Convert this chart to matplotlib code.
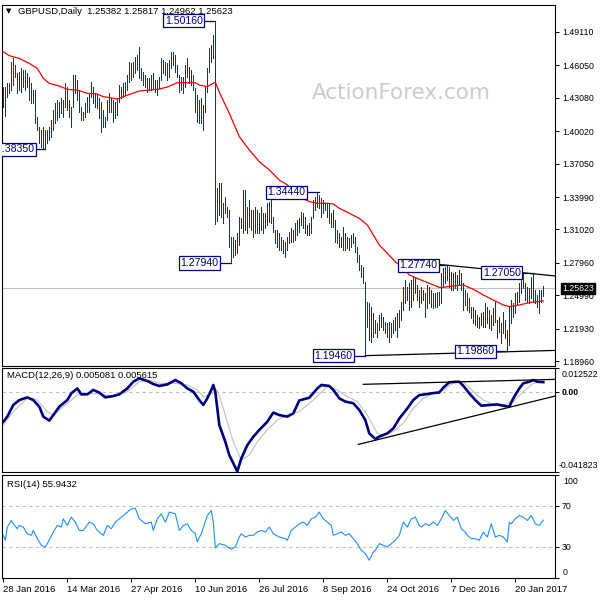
import numpy as np
import matplotlib
matplotlib.use('Agg')
import matplotlib.pyplot as plt
import matplotlib.transforms as mtransforms

plt.rcParams['font.family'] = ['Liberation Sans', 'DejaVu Sans']

# ---- daily bars (high / low), oldest first ----
HIGH = [
    1.4410, 1.4410, 1.4440, 1.4440, 1.4639, 1.4669, 1.4608, 1.4532, 1.4547, 1.4578,
    1.4562, 1.4562, 1.4532, 1.4501, 1.4440, 1.4379, 1.4379, 1.4135, 1.4043, 1.4013,
    1.4043, 1.4013, 1.4013, 1.4043, 1.4104, 1.4196, 1.4257, 1.4287, 1.4272, 1.4303,
    1.4287, 1.4440, 1.4410, 1.4287, 1.4226, 1.4516, 1.4516, 1.4471, 1.4379, 1.4226,
    1.4181, 1.4257, 1.4318, 1.4349, 1.4455, 1.4410, 1.4349, 1.4333, 1.4303, 1.4272,
    1.4196, 1.4135, 1.4287, 1.4349, 1.4303, 1.4288, 1.4272, 1.4303, 1.4425, 1.4410,
    1.4440, 1.4455, 1.4516, 1.4639, 1.4623, 1.4639, 1.4684, 1.4700, 1.4776, 1.4578,
    1.4547, 1.4516, 1.4486, 1.4486, 1.4516, 1.4532, 1.4471, 1.4471, 1.4501, 1.4669,
    1.4654, 1.4639, 1.4623, 1.4654, 1.4730, 1.4730, 1.4700, 1.4608, 1.4516, 1.4501,
    1.4501, 1.4608, 1.4669, 1.4593, 1.4562, 1.4516, 1.4394, 1.4333, 1.4288, 1.4303,
    1.4242, 1.4410, 1.4578, 1.4761, 1.4791, 1.4883, 1.5016, 1.3478, 1.3524, 1.3525,
    1.3342, 1.3402, 1.3311, 1.3280, 1.3036, 1.3036, 1.3006, 1.3067, 1.3220, 1.3204,
    1.3464, 1.3464, 1.3311, 1.3372, 1.3281, 1.3281, 1.3311, 1.3281, 1.3250, 1.3311,
    1.3250, 1.3250, 1.3342, 1.3357, 1.3372, 1.3220, 1.3097, 1.3097, 1.3067, 1.3036,
    1.3006, 1.2991, 1.3036, 1.3082, 1.3113, 1.3097, 1.3159, 1.3189, 1.3204, 1.3265,
    1.3250, 1.3220, 1.3143, 1.3159, 1.3220, 1.3372, 1.3403, 1.3444, 1.3418, 1.3388,
    1.3372, 1.3342, 1.3342, 1.3342, 1.3250, 1.3280, 1.3189, 1.3097, 1.3067, 1.3036,
    1.3128, 1.3067, 1.3036, 1.3021, 1.3051, 1.3067, 1.3036, 1.2944, 1.2868, 1.2777,
    1.2761, 1.2624, 1.2441, 1.2425, 1.2395, 1.2334, 1.2273, 1.2242, 1.2319, 1.2334,
    1.2303, 1.2258, 1.2242, 1.2258, 1.2242, 1.2273, 1.2303, 1.2334, 1.2364, 1.2441,
    1.2578, 1.2639, 1.2578, 1.2608, 1.2639, 1.2669, 1.2654, 1.2593, 1.2547, 1.2578,
    1.2547, 1.2517, 1.2593, 1.2578, 1.2547, 1.2517, 1.2517, 1.2532, 1.2532, 1.2700,
    1.2746, 1.2761, 1.2774, 1.2761, 1.2715, 1.2700, 1.2715, 1.2685, 1.2730, 1.2700,
    1.2608, 1.2547, 1.2517, 1.2471, 1.2394, 1.2394, 1.2364, 1.2318, 1.2303, 1.2333,
    1.2349, 1.2425, 1.2394, 1.2364, 1.2318, 1.2379, 1.2440, 1.2272, 1.2303, 1.2242,
    1.2349, 1.2272, 1.2181, 1.2394, 1.2455, 1.2425, 1.2516, 1.2532, 1.2608, 1.2700,
    1.2705, 1.2608, 1.2578, 1.2562, 1.2669, 1.2700, 1.2547, 1.2501, 1.2547, 1.2547,
    1.2582,
]
LOW = [
    1.4226, 1.4141, 1.4318, 1.4349, 1.4379, 1.4425, 1.4501, 1.4349, 1.4379, 1.4364,
    1.4410, 1.4379, 1.4410, 1.4287, 1.4257, 1.4257, 1.4074, 1.4013, 1.3891, 1.3860,
    1.3845, 1.3835, 1.3891, 1.3921, 1.3952, 1.4013, 1.4074, 1.4104, 1.4135, 1.4165,
    1.4135, 1.4226, 1.4196, 1.4135, 1.4043, 1.4226, 1.4349, 1.4287, 1.4181, 1.4104,
    1.4104, 1.4135, 1.4181, 1.4181, 1.4318, 1.4257, 1.4226, 1.4211, 1.4120, 1.3997,
    1.4043, 1.4043, 1.4104, 1.4181, 1.4181, 1.4089, 1.4120, 1.4150, 1.4272, 1.4303,
    1.4318, 1.4333, 1.4379, 1.4455, 1.4471, 1.4501, 1.4532, 1.4562, 1.4486, 1.4471,
    1.4425, 1.4410, 1.4364, 1.4379, 1.4379, 1.4394, 1.4364, 1.4333, 1.4394, 1.4471,
    1.4532, 1.4516, 1.4471, 1.4501, 1.4578, 1.4608, 1.4547, 1.4501, 1.4364, 1.4379,
    1.4349, 1.4410, 1.4501, 1.4440, 1.4425, 1.4379, 1.4181, 1.4089, 1.4074, 1.4074,
    1.4013, 1.4181, 1.4364, 1.4547, 1.4639, 1.4669, 1.3150, 1.3180, 1.3234, 1.3220,
    1.3159, 1.3250, 1.3219, 1.2945, 1.2794, 1.2853, 1.2869, 1.2884, 1.2960, 1.3113,
    1.3067, 1.3097, 1.3067, 1.3128, 1.3097, 1.3036, 1.3067, 1.3067, 1.3067, 1.3097,
    1.3067, 1.3113, 1.3143, 1.3174, 1.3159, 1.3082, 1.2975, 1.2945, 1.2914, 1.2914,
    1.2884, 1.2853, 1.2914, 1.2975, 1.2991, 1.2991, 1.3006, 1.3052, 1.3082, 1.3143,
    1.3113, 1.3067, 1.3052, 1.3052, 1.3067, 1.3204, 1.3281, 1.3311, 1.3296, 1.3220,
    1.3250, 1.3281, 1.3220, 1.3159, 1.3128, 1.3128, 1.2990, 1.2975, 1.2944, 1.2944,
    1.2914, 1.2914, 1.2929, 1.2914, 1.2944, 1.2975, 1.2899, 1.2807, 1.2731, 1.2670,
    1.2609, 1.1946, 1.2212, 1.2090, 1.2074, 1.2120, 1.2151, 1.2120, 1.2181, 1.2212,
    1.2181, 1.2151, 1.2120, 1.2074, 1.2120, 1.2151, 1.2181, 1.2120, 1.2212, 1.2273,
    1.2364, 1.2425, 1.2456, 1.2364, 1.2395, 1.2456, 1.2517, 1.2456, 1.2395, 1.2425,
    1.2456, 1.2303, 1.2380, 1.2425, 1.2395, 1.2380, 1.2395, 1.2395, 1.2410, 1.2425,
    1.2578, 1.2608, 1.2639, 1.2578, 1.2547, 1.2547, 1.2562, 1.2547, 1.2593, 1.2547,
    1.2364, 1.2410, 1.2364, 1.2349, 1.2288, 1.2242, 1.2227, 1.2211, 1.2196, 1.2227,
    1.2211, 1.2211, 1.2242, 1.2196, 1.2181, 1.2227, 1.2257, 1.2104, 1.2165, 1.2059,
    1.2150, 1.2104, 1.1986, 1.2043, 1.2242, 1.2303, 1.2333, 1.2410, 1.2440, 1.2516,
    1.2562, 1.2455, 1.2440, 1.2425, 1.2471, 1.2440, 1.2425, 1.2394, 1.2339, 1.2440,
    1.2496,
]
LAST_CLOSE = 1.25623

# moving average (red), sampled along the line
MA_IDX = [0, 3, 8, 13, 17, 20, 23, 28, 32, 37, 42, 47, 50, 53, 57, 60, 63, 68, 73, 78,
          82, 87, 92, 96, 98, 102, 104, 106, 108, 109, 113, 118, 123, 128, 133, 138, 142,
          148, 153, 157, 162, 165, 168, 173, 178, 182, 185, 188, 192, 196, 200, 203, 208,
          213, 218, 220, 225, 230, 235, 240, 245, 250, 253, 258, 263, 267, 270]
MA_VAL = [1.4730, 1.4694, 1.4669, 1.4623, 1.4578, 1.4486, 1.4440, 1.4416, 1.4385, 1.4379,
          1.4349, 1.4342, 1.4318, 1.4310, 1.4297, 1.4318, 1.4339, 1.4370, 1.4379, 1.4388,
          1.4407, 1.4446, 1.4446, 1.4446, 1.4425, 1.4410, 1.4431, 1.4450, 1.4360, 1.4320,
          1.4166, 1.3952, 1.3830, 1.3723, 1.3647, 1.3555, 1.3510, 1.3403, 1.3357, 1.3342,
          1.3342, 1.3336, 1.3296, 1.3250, 1.3204, 1.3143, 1.3051, 1.2960, 1.2883, 1.2807,
          1.2746, 1.2685, 1.2645, 1.2609, 1.2572, 1.2572, 1.2585, 1.2594, 1.2554, 1.2502,
          1.2456, 1.2410, 1.2395, 1.2410, 1.2432, 1.2441, 1.2447]

# MACD(12,26,9) main line and signal
MACD_IDX = [0, 2, 5, 8, 12, 15, 18, 20, 23, 25, 28, 32, 34, 37, 39, 42, 45, 48, 51, 55,
            58, 62, 65, 68, 72, 75, 78, 82, 86, 89, 92, 95, 98, 100, 102, 104, 105, 106,
            108, 111, 113, 115, 117, 119, 122, 125, 128, 132, 135, 138, 142, 145, 148,
            153, 157, 159, 163, 165, 168, 171, 175, 178, 181, 183, 186, 188, 192, 195,
            198, 202, 205, 208, 211, 214, 218, 220, 223, 226, 228, 230, 233, 236, 239,
            243, 247, 250, 253, 255, 258, 260, 263, 265, 267, 270]
MACD_VAL = [-0.0157, -0.0130, -0.0069, -0.0043, -0.0029, -0.0043, -0.0078, -0.0130,
            -0.0151, -0.0122, -0.0078, -0.0043, -0.0008, 0.0018, -0.0013, -0.0013,
            0.0010, -0.0004, -0.0029, -0.0022, -0.0013, 0.0018, 0.0053, 0.0071, 0.0057,
            0.0041, 0.0031, 0.0039, 0.0062, 0.0045, 0.0018, 0.0001, -0.0043, -0.0069,
            -0.0034, 0.0010, 0.0036, 0.0000, -0.0174, -0.0262, -0.0332, -0.0375, -0.0418,
            -0.0350, -0.0280, -0.0236, -0.0200, -0.0157, -0.0109, -0.0122, -0.0130,
            -0.0113, -0.0045, -0.0031, 0.0018, 0.0036, 0.0031, 0.0010, -0.0034, -0.0051,
            -0.0060, -0.0095, -0.0148, -0.0218, -0.0247, -0.0235, -0.0218, -0.0192,
            -0.0140, -0.0087, -0.0043, -0.0017, -0.0013, -0.0008, -0.0003, 0.0022, 0.0050,
            0.0053, 0.0053, 0.0032, -0.0008, -0.0043, -0.0073, -0.0069, -0.0066, -0.0073,
            -0.0078, -0.0034, 0.0018, 0.0045, 0.0053, 0.0062, 0.0053, 0.0051]
SIG_IDX = [0, 5, 12, 17, 22, 25, 32, 37, 42, 48, 55, 62, 68, 73, 78, 85, 92, 97, 100,
           103, 107, 110, 115, 119, 123, 127, 132, 137, 142, 148, 155, 162, 167, 172,
           177, 182, 187, 190, 195, 200, 205, 210, 215, 220, 225, 230, 235, 240, 245,
           250, 255, 260, 265, 270]
SIG_VAL = [-0.0174, -0.0104, -0.0034, -0.0043, -0.0104, -0.0122, -0.0060, -0.0017,
           -0.0008, -0.0011, -0.0025, 0.0001, 0.0053, 0.0062, 0.0045, 0.0045, 0.0036,
           0.0010, -0.0025, -0.0017, 0.0010, -0.0087, -0.0262, -0.0358, -0.0332, -0.0262,
           -0.0200, -0.0148, -0.0122, -0.0104, -0.0043, 0.0027, 0.0010, -0.0025, -0.0051,
           -0.0122, -0.0218, -0.0227, -0.0209, -0.0165, -0.0087, -0.0034, -0.0008, 0.0010,
           0.0045, 0.0053, 0.0001, -0.0043, -0.0066, -0.0069, -0.0051, 0.0001, 0.0045,
           0.0056]

# RSI(14)
RSI_IDX = [0, 1, 2, 4, 5, 7, 8, 10, 12, 14, 15, 17, 19, 21, 22, 25, 27, 29, 30, 32,
           34, 36, 38, 40, 43, 45, 47, 50, 52, 54, 56, 58, 61, 64, 66, 68, 71, 74, 75,
           77, 79, 81, 83, 86, 88, 90, 92, 94, 96, 97, 99, 102, 104, 105, 106, 108, 111,
           114, 116, 118, 119, 121, 123, 125, 127, 129, 131, 133, 135, 138, 141, 142,
           144, 146, 148, 150, 152, 154, 156, 158, 160, 162, 164, 165, 167, 169, 171,
           173, 175, 177, 179, 181, 183, 185, 186, 188, 190, 192, 194, 196, 198, 200,
           202, 204, 206, 208, 209, 211, 213, 215, 217, 219, 221, 223, 225, 227, 229,
           231, 232, 234, 236, 238, 240, 242, 244, 246, 248, 250, 252, 253, 254, 256,
           258, 260, 262, 264, 266, 268, 270]
RSI_VAL = [41.2, 36.4, 49.2, 55.6, 52.4, 47.6, 50.8, 49.2, 42.8, 41.2, 46.0, 38.0, 31.6,
           30.0, 33.2, 44.4, 50.8, 49.2, 57.2, 50.8, 58.8, 54.0, 46.0, 46.0, 54.0, 52.4,
           46.0, 41.2, 50.8, 47.6, 54.0, 57.2, 62.0, 66.8, 67.4, 57.2, 52.4, 54.0, 46.0,
           57.2, 62.0, 54.0, 63.6, 62.0, 46.0, 50.8, 52.4, 46.0, 42.8, 34.8, 42.8, 60.4,
           65.2, 54.0, 29.0, 33.2, 31.6, 27.8, 30.0, 39.6, 42.8, 39.6, 41.2, 41.2, 44.4,
           46.0, 44.4, 49.2, 42.8, 39.6, 38.0, 36.4, 46.0, 49.2, 52.4, 54.0, 50.8, 57.2,
           58.8, 63.6, 57.2, 54.0, 50.8, 41.2, 42.8, 44.4, 41.2, 42.8, 38.0, 33.2, 26.8,
           23.6, 17.2, 25.2, 26.8, 33.2, 31.6, 30.0, 33.2, 36.4, 41.2, 54.0, 49.2, 57.2,
           58.8, 50.8, 49.2, 52.4, 50.8, 54.0, 50.8, 57.2, 65.2, 60.4, 55.6, 58.8, 47.6,
           44.4, 41.2, 38.0, 38.0, 36.4, 44.4, 39.6, 52.4, 39.6, 41.2, 39.6, 34.8, 54.0,
           52.4, 57.2, 60.4, 58.8, 55.6, 60.4, 52.4, 50.8, 55.9]

PRICE_TICKS = [1.49110, 1.46050, 1.43080, 1.40020, 1.37050, 1.33990, 1.31020,
               1.27960, 1.24990, 1.21930, 1.18960]
DATE_TICKS = [0, 32, 64, 96, 128, 160, 192, 224, 256]
DATE_LABELS = ['28 Jan 2016', '14 Mar 2016', '27 Apr 2016', '10 Jun 2016', '26 Jul 2016',
               '8 Sep 2016', '24 Oct 2016', '7 Dec 2016', '20 Jan 2017']

BAR_COLOR = '#16374f'
NAVY = '#000080'
SILVER = '#c0c0c0'
FS = 6.8
FS_R = 6.3

fig = plt.figure(figsize=(6, 6), dpi=100)
fig.patch.set_facecolor('white')


def px_axes(left, top, right, bottom):
    return fig.add_axes([left / 600, 1 - bottom / 600, (right - left) / 600, (bottom - top) / 600])


ax = px_axes(2, 4.5, 555, 365.5)
ax_m = px_axes(2, 368, 555, 471.5)
ax_r = px_axes(2, 474.5, 555, 578)

XLIM = (-0.65, 275.85)
for a in (ax, ax_m, ax_r):
    a.set_xlim(*XLIM)
    for s in a.spines.values():
        s.set_linewidth(0.8)
        s.set_color('black')
    a.yaxis.tick_right()
    a.tick_params(axis='y', direction='out', length=3, width=0.7, pad=2, labelsize=FS_R)
    a.set_xticks([])

# ---- main price panel ----
idx = np.arange(len(HIGH))
ax.set_ylim(1.18558, 1.51626)
ax.axhline(LAST_CLOSE, color=SILVER, lw=0.8, zorder=1)
ax.vlines(idx, LOW, HIGH, color=BAR_COLOR, lw=0.55, antialiased=False, zorder=2)
ax.plot(MA_IDX, MA_VAL, color='red', lw=0.9, zorder=3)
ax.set_yticks(PRICE_TICKS)
ax.set_yticklabels([f'{t:.5f}' for t in PRICE_TICKS])

# trend lines
ax.plot([203, 276], [1.2808, 1.2676], color='black', lw=0.9, zorder=3)
ax.plot([181, 276], [1.1946, 1.1994], color='black', lw=0.9, zorder=3)

# swing labels: (text, price, box right edge in bars, bar reached by the leader)
swings = [
    ('1.50160', 1.5016, 100.9, 106),
    ('1.38350', 1.3835, 16.9, 21),
    ('1.27940', 1.2794, 108.9, 114),
    ('1.34440', 1.3444, 152.4, 158),
    ('1.27740', 1.2774, 218.4, 222),
    ('1.27050', 1.2705, 259.9, 265),
    ('1.19460', 1.1946, 175.9, 181),
    ('1.19860', 1.1986, 246.9, 252),
]
for txt, price, xr, xb in swings:
    ax.plot([xr, xb], [price, price], color=NAVY, lw=0.9, zorder=4)
    ax.text(xr - 1.2, price, txt, ha='right', va='center', color=NAVY, fontsize=7.6,
            zorder=5, clip_on=True,
            bbox=dict(boxstyle='square,pad=0.15', fc='white', ec=NAVY, lw=0.9))

# watermark
ax.text(199, 1.4352, 'ActionForex.com', ha='center', va='center', color='#cccccc',
        fontsize=15.5, family='DejaVu Sans', zorder=1.5)

trans = mtransforms.blended_transform_factory(ax.transAxes, ax.transData)
ax.text(1 + 7 / 553, LAST_CLOSE, f'{LAST_CLOSE:.5f}', transform=trans, ha='left',
        va='center', color='white', fontsize=FS_R, clip_on=False, zorder=6,
        bbox=dict(boxstyle='square,pad=0.1', fc='black', ec='black'))

fig.text(6 / 600, 1 - 11 / 600, '\u25bc', fontsize=5, va='center', ha='left',
         family='DejaVu Sans')
fig.text(18 / 600, 1 - 11 / 600, 'GBPUSD,Daily  1.25382 1.25817 1.24962 1.25623',
         fontsize=FS, va='center', ha='left')

# ---- MACD panel ----
ax_m.set_ylim(-0.041823, 0.012522)
ax_m.axhline(0, color=SILVER, lw=0.8, ls=(0, (3, 3)))
ax_m.plot(SIG_IDX, SIG_VAL, color=SILVER, lw=0.8)
ax_m.plot(MACD_IDX, MACD_VAL, color=NAVY, lw=1.9)
ax_m.plot([180, 276.7], [0.00395, 0.00657], color='black', lw=0.9)
ax_m.plot([177.5, 276.7], [-0.0276, -0.0020], color='black', lw=0.9)
ax_m.set_yticks([0.012522, 0, -0.041823])
ax_m.set_yticklabels(['', '0.00', ''])
for lab in ax_m.get_yticklabels():
    lab.set_fontweight('bold')
tm = mtransforms.blended_transform_factory(ax_m.transAxes, ax_m.transAxes)
ax_m.text(1 + 7 / 553, 0.94, '0.012522', transform=tm, fontsize=FS_R, va='center',
          ha='left', clip_on=False)
ax_m.text(1 + 4 / 553, 0.06, '-0.041823', transform=tm, fontsize=FS_R, va='center',
          ha='left', clip_on=False)
ax_m.text(5 / 553, 0.925, 'MACD(12,26,9) 0.005081 0.005615', transform=ax_m.transAxes,
          fontsize=FS, va='center', ha='left')

# ---- RSI panel ----
ax_r.set_ylim(0, 100)
for lvl in (70, 30):
    ax_r.axhline(lvl, color=SILVER, lw=0.8, ls=(0, (3, 3)))
ax_r.plot(RSI_IDX, RSI_VAL, color='#1e90ff', lw=0.8)
ax_r.set_yticks([100, 70, 30, 0])
ax_r.set_yticklabels(['', '70', '30', ''])
tr = mtransforms.blended_transform_factory(ax_r.transAxes, ax_r.transAxes)
ax_r.text(1 + 8 / 553, 0.935, '100', transform=tr, fontsize=FS_R, va='center', ha='left',
          clip_on=False)
ax_r.text(1 + 8 / 553, 0.05, '0', transform=tr, fontsize=FS_R, va='center', ha='left',
          clip_on=False)
ax_r.text(5 / 553, 0.905, 'RSI(14) 55.9432', transform=ax_r.transAxes, fontsize=FS,
          va='center', ha='left')

ax_r.set_xticks(DATE_TICKS)
ax_r.set_xticklabels(DATE_LABELS, fontsize=FS, ha='left')
ax_r.tick_params(axis='x', direction='out', length=3, width=0.7, pad=2)

fig.savefig('out.png', dpi=100, facecolor='white')
